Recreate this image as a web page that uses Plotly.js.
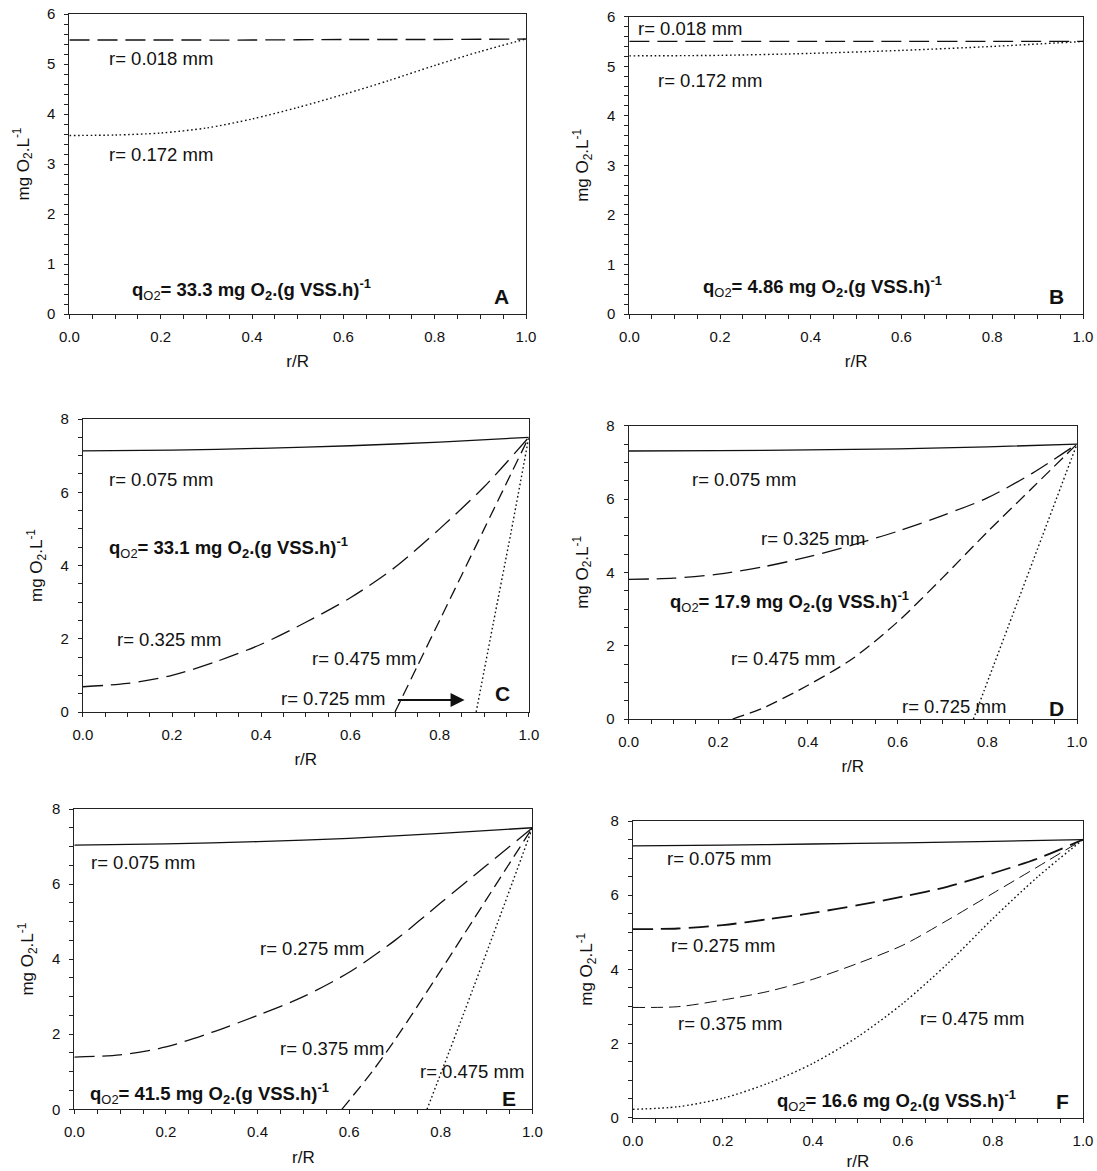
<!DOCTYPE html>
<html>
<head>
<meta charset="utf-8">
<script src="https://cdn.plot.ly/plotly-3.0.1.min.js"></script>
<style>html,body{margin:0;padding:0;background:#fff;}#chart{width:1097px;height:1171px;}</style>
</head>
<body>
<div id="chart"></div>
<script>
// ---------- DATA ----------
// Panel A (q = 33.3)
const xA_018 = [0, 0.2, 0.4, 0.6, 0.8, 1.0];
const yA_018 = [5.48, 5.48, 5.48, 5.49, 5.49, 5.5];
const xA_172 = [0, 0.1, 0.2, 0.3, 0.4, 0.5, 0.6, 0.7, 0.8, 0.9, 1.0];
const yA_172 = [3.57, 3.58, 3.62, 3.72, 3.9, 4.13, 4.39, 4.67, 4.97, 5.25, 5.5];
// Panel B (q = 4.86)
const xB_018 = [0, 0.2, 0.4, 0.6, 0.8, 1.0];
const yB_018 = [5.5, 5.5, 5.5, 5.5, 5.5, 5.5];
const xB_172 = [0, 0.2, 0.4, 0.6, 0.8, 1.0];
const yB_172 = [5.21, 5.22, 5.26, 5.32, 5.4, 5.5];
// Panel C (q = 33.1)
const xC_075 = [0, 0.2, 0.4, 0.6, 0.8, 1.0];
const yC_075 = [7.13, 7.15, 7.2, 7.27, 7.37, 7.5];
const xC_325 = [0, 0.1, 0.2, 0.3, 0.4, 0.5, 0.6, 0.7, 0.8, 0.9, 1.0];
const yC_325 = [0.69, 0.78, 1.0, 1.38, 1.85, 2.45, 3.12, 3.95, 5.0, 6.15, 7.5];
const xC_475 = [0.70, 0.75, 0.80, 0.85, 0.90, 0.95, 1.0];
const yC_475 = [0, 1.25, 2.5, 3.75, 5.0, 6.25, 7.5];
const xC_725 = [0.882, 0.92, 0.96, 1.0];
const yC_725 = [0, 2.4, 4.9, 7.5];
// Panel D (q = 17.9)
const xD_075 = [0, 0.2, 0.4, 0.6, 0.8, 1.0];
const yD_075 = [7.31, 7.32, 7.34, 7.37, 7.42, 7.5];
const xD_325 = [0, 0.1, 0.2, 0.3, 0.4, 0.5, 0.6, 0.7, 0.8, 0.9, 1.0];
const yD_325 = [3.81, 3.84, 3.95, 4.15, 4.42, 4.75, 5.12, 5.55, 6.03, 6.7, 7.5];
const xD_475 = [0.232, 0.3, 0.4, 0.5, 0.6, 0.7, 0.8, 0.9, 1.0];
const yD_475 = [0, 0.3, 0.92, 1.65, 2.65, 3.85, 5.1, 6.3, 7.5];
const xD_725 = [0.769, 0.846, 0.923, 1.0];
const yD_725 = [0, 2.5, 5.0, 7.5];
// Panel E (q = 41.5)
const xE_075 = [0, 0.2, 0.4, 0.6, 0.8, 1.0];
const yE_075 = [7.04, 7.07, 7.13, 7.22, 7.35, 7.5];
const xE_275 = [0, 0.1, 0.2, 0.3, 0.4, 0.5, 0.6, 0.7, 0.8, 0.9, 1.0];
const yE_275 = [1.39, 1.45, 1.66, 2.05, 2.5, 3.0, 3.65, 4.5, 5.5, 6.5, 7.5];
const xE_375 = [0.584, 0.65, 0.7, 0.8, 0.9, 1.0];
const yE_375 = [0, 1.0, 1.85, 3.7, 5.6, 7.5];
const xE_475 = [0.77, 0.85, 0.925, 1.0];
const yE_475 = [0, 2.55, 5.0, 7.5];
// Panel F (q = 16.6)
const xF_075 = [0, 0.2, 0.4, 0.6, 0.8, 1.0];
const yF_075 = [7.33, 7.35, 7.38, 7.41, 7.45, 7.5];
const xF_275 = [0, 0.1, 0.2, 0.3, 0.4, 0.5, 0.6, 0.7, 0.8, 0.9, 1.0];
const yF_275 = [5.08, 5.1, 5.19, 5.35, 5.52, 5.73, 5.96, 6.23, 6.59, 6.99, 7.5];
const xF_375 = [0, 0.1, 0.2, 0.3, 0.4, 0.5, 0.6, 0.7, 0.8, 0.9, 1.0];
const yF_375 = [2.97, 2.99, 3.17, 3.4, 3.73, 4.16, 4.65, 5.33, 6.05, 6.77, 7.5];
const xF_475 = [0, 0.1, 0.2, 0.3, 0.4, 0.5, 0.6, 0.7, 0.8, 0.9, 1.0];
const yF_475 = [0.22, 0.29, 0.52, 0.92, 1.46, 2.18, 3.08, 4.16, 5.37, 6.5, 7.5];

// Panel texts
const panelLetters = ['A', 'B', 'C', 'D', 'E', 'F'];
const qValues = ['33.3', '4.86', '33.1', '17.9', '41.5', '16.6'];
const xTickVals = [0, 0.2, 0.4, 0.6, 0.8, 1.0];
const xTickText = ['0.0', '0.2', '0.4', '0.6', '0.8', '1.0'];

// ---------- STYLE / LAYOUT ----------
const W = 1097, H = 1171;
const FONT = 'Liberation Sans, Arial, sans-serif';
const INK = '#111';
const LONG = '20px,8px', MED = '12px,6px', DOT = '1.6px,2.6px';

// pixel boxes [left, right, top, bottom]
const boxes = [
  [69.4, 526, 14, 314],
  [629.3, 1083, 16.7, 314],
  [82.8, 528.8, 419, 712],
  [628.6, 1077, 425.7, 719],
  [74.3, 532.4, 809, 1109.3],
  [632.8, 1083, 821, 1117.5]
];
const yMax = [6, 6, 8, 8, 8, 8];

function ln(x, y, k, dash, w) {
  const s = k === 1 ? '' : String(k);
  return {x: x, y: y, xaxis: 'x' + s, yaxis: 'y' + s, type: 'scatter', mode: 'lines',
    line: {color: INK, width: w || 1.3, dash: dash, shape: 'spline', smoothing: 0.8},
    hoverinfo: 'skip', showlegend: false};
}

const data = [
  ln(xA_018, yA_018, 1, LONG), ln(xA_172, yA_172, 1, DOT, 1.4),
  ln(xB_018, yB_018, 2, LONG), ln(xB_172, yB_172, 2, DOT, 1.4),
  ln(xC_075, yC_075, 3, 'solid'), ln(xC_325, yC_325, 3, LONG), ln(xC_475, yC_475, 3, MED), ln(xC_725, yC_725, 3, DOT, 1.4),
  ln(xD_075, yD_075, 4, 'solid'), ln(xD_325, yD_325, 4, LONG), ln(xD_475, yD_475, 4, MED), ln(xD_725, yD_725, 4, DOT, 1.4),
  ln(xE_075, yE_075, 5, 'solid'), ln(xE_275, yE_275, 5, LONG), ln(xE_375, yE_375, 5, MED), ln(xE_475, yE_475, 5, DOT, 1.4),
  ln(xF_075, yF_075, 6, 'solid'), ln(xF_275, yF_275, 6, LONG, 1.8), ln(xF_375, yF_375, 6, MED, 1.0), ln(xF_475, yF_475, 6, DOT, 1.4)
];

const layout = {
  width: W, height: H,
  margin: {l: 0, r: 0, t: 0, b: 0},
  paper_bgcolor: '#fff', plot_bgcolor: '#fff',
  font: {family: FONT, color: INK},
  showlegend: false,
  annotations: []
};

boxes.forEach((b, i) => {
  const s = i === 0 ? '' : String(i + 1);
  layout['xaxis' + s] = {
    domain: [b[0] / W, b[1] / W], anchor: 'y' + s, range: [0, 1],
    showline: true, linecolor: '#222', linewidth: 1, mirror: true,
    showgrid: false, zeroline: false,
    ticks: 'outside', ticklen: 4, tickcolor: '#222', tickwidth: 1,
    tickvals: xTickVals, ticktext: xTickText, ticklabelstandoff: 5,
    minor: {dtick: 0.05, tick0: 0, ticks: 'outside', ticklen: 4, tickcolor: '#222', showgrid: false},
    tickfont: {family: FONT, size: 15, color: INK},
    title: {text: 'r/R', font: {family: FONT, size: 17, color: INK}, standoff: 11},
    fixedrange: true
  };
  layout['yaxis' + s] = {
    domain: [1 - b[3] / H, 1 - b[2] / H], anchor: 'x' + s, range: [0, yMax[i]],
    showline: true, linecolor: '#222', linewidth: 1, mirror: true,
    showgrid: false, zeroline: false,
    ticks: 'outside', ticklen: 4, tickcolor: '#222', tickwidth: 1,
    dtick: yMax[i] === 6 ? 1 : 2, tick0: 0, ticklabelstandoff: 6,
    minor: {dtick: yMax[i] === 6 ? 0.2 : 0.5, tick0: 0, ticks: 'outside', ticklen: 4, tickcolor: '#222', showgrid: false},
    tickfont: {family: FONT, size: 15, color: INK},
    title: {text: 'mg O<sub>2</sub>.L<sup>-1</sup>', font: {family: FONT, size: 17, color: INK}, standoff: 13},
    fixedrange: true
  };
});

function txt(k, x, y, t, opts) {
  const s = k === 1 ? '' : String(k);
  layout.annotations.push(Object.assign({
    xref: 'x' + s, yref: 'y' + s, x: x, y: y, text: t, showarrow: false,
    xanchor: 'left', yanchor: 'middle',
    font: {family: FONT, size: 18.5, color: INK}
  }, opts || {}));
}
function qText(v) {
  return '<b>q</b><sub>O2</sub><b>= ' + v + ' mg O</b><sub><b>2</b></sub><b>.(g VSS.h)</b><sup><b>-1</b></sup>';
}
function letter(k, x, y, L) {
  txt(k, x, y, '<b>' + L + '</b>', {xanchor: 'center', font: {family: FONT, size: 21, color: INK}});
}

// A
txt(1, 0.082, 5.11, 'r= 0.018 mm');
txt(1, 0.082, 3.2, 'r= 0.172 mm');
txt(1, 0.132, 0.5, qText(qValues[0]));
letter(1, 0.947, 0.36, panelLetters[0]);
// B
txt(2, 0.015, 5.77, 'r= 0.018 mm');
txt(2, 0.058, 4.72, 'r= 0.172 mm');
txt(2, 0.157, 0.55, qText(qValues[1]));
letter(2, 0.942, 0.35, panelLetters[1]);
// C
txt(3, 0.055, 6.36, 'r= 0.075 mm');
txt(3, 0.055, 4.48, qText(qValues[2]));
txt(3, 0.0715, 1.97, 'r= 0.325 mm');
txt(3, 0.51, 1.47, 'r= 0.475 mm');
txt(3, 0.44, 0.38, 'r= 0.725 mm');
letter(3, 0.94, 0.51, panelLetters[2]);
layout.annotations.push({xref: 'x3', yref: 'y3', axref: 'x3', ayref: 'y3',
  x: 0.856, y: 0.33, ax: 0.703, ay: 0.33, text: '', showarrow: true,
  arrowhead: 2, arrowsize: 1.4, arrowwidth: 2, arrowcolor: INK});
// D
txt(4, 0.137, 6.54, 'r= 0.075 mm');
txt(4, 0.29, 4.93, 'r= 0.325 mm');
txt(4, 0.087, 3.2, qText(qValues[3]));
txt(4, 0.223, 1.66, 'r= 0.475 mm');
txt(4, 0.605, 0.34, 'r= 0.725 mm');
letter(4, 0.954, 0.29, panelLetters[3]);
// E
txt(5, 0.031, 6.58, 'r= 0.075 mm');
txt(5, 0.40, 4.29, 'r= 0.275 mm');
txt(5, 0.444, 1.62, 'r= 0.375 mm');
txt(5, 0.751, 1.0, 'r= 0.475 mm');
txt(5, 0.029, 0.43, qText(qValues[4]));
letter(5, 0.949, 0.29, panelLetters[4]);
// F
txt(6, 0.072, 6.99, 'r= 0.075 mm');
txt(6, 0.081, 4.65, 'r= 0.275 mm');
txt(6, 0.095, 2.54, 'r= 0.375 mm');
txt(6, 0.634, 2.68, 'r= 0.475 mm');
txt(6, 0.315, 0.47, qText(qValues[5]));
letter(6, 0.955, 0.43, panelLetters[5]);

Plotly.newPlot('chart', data, layout, {staticPlot: true, displayModeBar: false});
</script>
</body>
</html>
